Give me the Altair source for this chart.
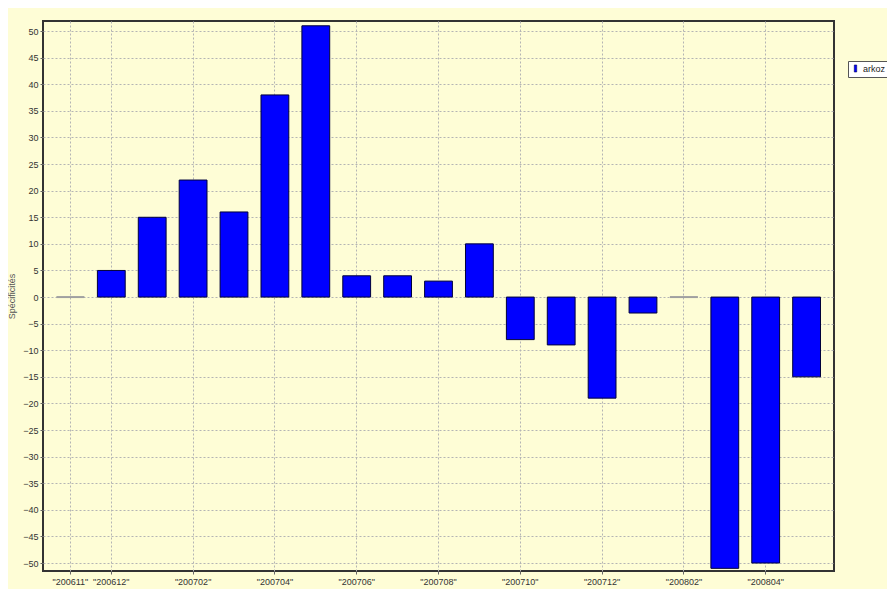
import altair as alt
import pandas as pd

months = ["200611", "200612", "200701", "200702", "200703", "200704", "200705",
          "200706", "200707", "200708", "200709", "200710", "200711", "200712",
          "200801", "200802", "200803", "200804", "200805"]
values = [0, 5, 15, 22, 16, 38, 51, 4, 4, 3, 10, -8, -9, -19, -3, 0, -51, -50, -15]
shown_labels = ["200611", "200612", "200702", "200704", "200706", "200708",
                "200710", "200712", "200802", "200804"]
y_ticks = list(range(-50, 55, 5))
series_name = "arkoz"

df = pd.DataFrame({"month": months, "value": values, "series": [series_name] * len(months)})

BG = "#FEFDD6"

x = alt.X(
    "month:N", sort=months,
    scale=alt.Scale(paddingInner=0.32, paddingOuter=0.33),
    axis=alt.Axis(values=shown_labels, labelExpr="'\"' + datum.label + '\"'", labelAngle=0,
                  grid=True, gridDash=[2, 2], gridColor="#b4b4b4", gridWidth=1,
                  bandPosition=0.5, tickSize=3, tickColor="#666", domain=False,
                  labelFontSize=9, labelColor="#333", labelFont="Liberation Sans",
                  labelPadding=3, title=None),
)
y = alt.Y(
    "value:Q",
    scale=alt.Scale(domain=[-51.5, 51.9], nice=False),
    axis=alt.Axis(values=y_ticks, grid=True, gridDash=[2, 2], gridColor="#b4b4b4",
                  tickSize=3, tickColor="#666", domain=False,
                  labelFontSize=9, labelColor="#333", labelFont="Liberation Sans",
                  labelPadding=2, title="Spécificités", titleFontSize=9,
                  titleColor="#555", titleFontWeight="normal", titleFont="Liberation Sans",
                  titlePadding=6),
)

bars = alt.Chart(df).transform_filter("datum.value != 0").mark_bar(
    stroke="#00003a", strokeWidth=1
).encode(
    x=x, y=y,
    color=alt.Color("series:N", scale=alt.Scale(range=["#0000FF"]),
                    legend=alt.Legend(orient="none", legendX=805, legendY=40, title=None,
                                      fillColor="white", strokeColor="#555", padding=3,
                                      symbolType="M-0.35,-1H0.35V1H-0.35Z", symbolSize=50,
                                      symbolStrokeColor="#00003a", symbolStrokeWidth=0.5,
                                      labelFontSize=9, labelFont="Liberation Sans",
                                      labelColor="#222", labelOffset=3)),
)

zeros = alt.Chart(df).transform_filter("datum.value == 0").mark_tick(
    color="#a0a0a0", thickness=2, size=28, opacity=1
).encode(x=x, y=y)

chart = alt.layer(bars, zeros).properties(
    width=791, height=550,
    autosize=alt.AutoSizeParams(type="none"),
    padding={"left": 35, "top": 13, "right": 53, "bottom": 18},
    background=BG,
).configure_view(fill=BG, stroke="#333", strokeWidth=2)

chart.save("out.html", embed_options={"renderer": "svg", "actions": False})
